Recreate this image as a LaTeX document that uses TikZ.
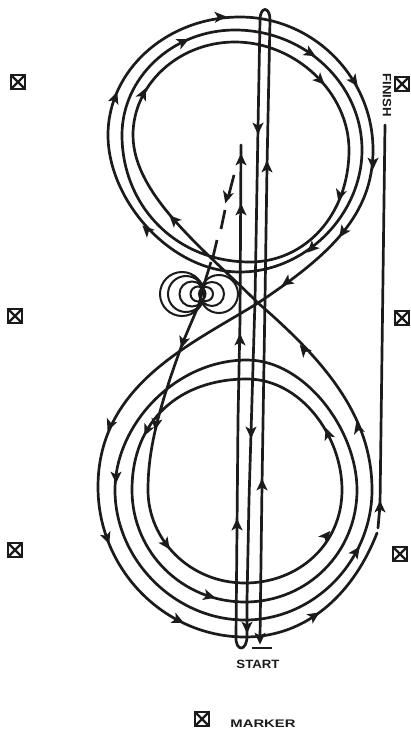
\documentclass[tikz,border=0pt]{standalone}
\usepackage{fontspec}
\setmainfont{Liberation Sans}
\definecolor{ink}{HTML}{1C1A1A}
\newcommand{\arw}[3]{\fill[ink,shift={(#1,#2)},rotate=#3] (6.5,0)--(-5.5,-5.6)--(-2.4,0)--(-5.5,5.6)--cycle;}
\newcommand{\mrk}[2]{\node[markerbox] at (#1,#2) {};\draw[ink,line width=2.4pt] (#1-6,#2-6)--(#1+6,#2+6) (#1-6,#2+6)--(#1+6,#2-6);}
\tikzset{trail/.style={ink,line width=2.7pt,line cap=round,line join=round},
 thin loop/.style={ink,line width=2pt},
 markerbox/.style={draw=ink,line width=2.8pt,minimum size=14pt,inner sep=0pt,rectangle},
 lab/.style={text=ink,font=\bfseries\fontsize{11}{12}\selectfont,inner sep=0pt}}
\begin{document}
\begin{tikzpicture}[x=1pt,y=-1pt]
\useasboundingbox (0,0) rectangle (410,730);
% the spiral through both rings
\draw[trail] (258,303) .. controls (330,255) and (373,215) .. (373,150)
 .. controls (373,77) and (313,17) .. (240,17)
 .. controls (167,17) and (108,70) .. (108,135)
 .. controls (108,200) and (170,272) .. (240,272)
 .. controls (305,272) and (362,215) .. (362,150)
 .. controls (362,84) and (305,30) .. (235,30)
 .. controls (172,30) and (122,78) .. (122,135)
 .. controls (122,205) and (175,262) .. (250,262)
 .. controls (305,262) and (349,215) .. (349,150)
 .. controls (349,92) and (295,42) .. (235,42)
 .. controls (178,42) and (133,85) .. (133,135)
 .. controls (133,195) and (205,250) .. (258,303)
 .. controls (330,365) and (372,420) .. (372,490)
 .. controls (372,560) and (315,620) .. (245,620)
 .. controls (175,620) and (115,560) .. (115,490)
 .. controls (115,425) and (175,360) .. (247,360)
 .. controls (305,360) and (357,430) .. (357,490)
 .. controls (357,552) and (308,602) .. (245,602)
 .. controls (182,602) and (132,552) .. (132,490)
 .. controls (132,420) and (180,379) .. (247,379)
 .. controls (300,379) and (342,435) .. (342,490)
 .. controls (342,545) and (298,583) .. (245,583)
 .. controls (190,583) and (148,540) .. (148,490)
 .. controls (148,450) and (158,410) .. (183,342) -- (200,302);
% outer bottom ring
\draw[trail] (258,303) .. controls (190,345) and (98,385) .. (98,487)
 .. controls (98,570) and (165,637) .. (245,637)
 .. controls (310,637) and (355,590) .. (377,533);
% vertical lines
\draw[trail] (241,145)--(240,320)--(238,420)--(236,636) .. controls (235,652) and (247,652) .. (247,636) --(247,600)--(249,500)--(252,400)--(255,300)--(258,128)--(260,20) .. controls (260,6) and (270,6) .. (270,20)--(267,167)--(265,300)--(262,485)--(260,638);
% finish line
\draw[trail] (385,125)--(380,505)--(378,528);
% start bar
\draw[ink,line width=2.4pt] (252,648)--(272,648);
% dashed approach
\draw[trail,line cap=butt] (234,175)--(228,198) (225,210)--(221,229) (217,240)--(213,257) (211,262)--(206,278)--(199,304);
% circles
\draw[thin loop] (182,294) circle[radius=22] (186,294) circle[radius=18] (192,294) circle[radius=12.5] (198,294) circle[radius=7.5];
\draw[thin loop] (219,294) circle[radius=19] (212,294) circle[radius=12] (206,294) circle[radius=7];
% arrowheads
\arw{220}{17}{3}\arw{115}{98}{70}\arw{147}{230}{135}\arw{354}{81}{-55}\arw{373}{163}{-90}\arw{343}{232}{-125}\arw{287}{282}{-145}
\arw{183}{42}{25}\arw{174}{220}{135}\arw{310}{53}{-30}\arw{312}{248}{-135}
\arw{143}{94}{65}\arw{320}{80}{-45}\arw{340}{195}{-105}
\arw{110}{425}{-112}\arw{107}{538}{-70}\arw{178}{620}{-25}\arw{314}{616}{33}\arw{380}{507}{90}
\arw{116}{477}{-90}\arw{147}{430}{-115}\arw{156}{424}{-100}\arw{166}{544}{-55}\arw{209}{596}{-15}
\arw{356}{552}{55}\arw{326}{536}{50}\arw{328}{434}{110}\arw{358}{428}{105}\arw{304}{350}{130}\arw{183}{342}{-107}
\arw{241}{160}{90}\arw{241}{210}{90}\arw{240}{340}{90}\arw{237}{525}{90}
\arw{258}{128}{-90}\arw{251}{432}{-90}\arw{247}{627}{-90}
\arw{267}{167}{90}\arw{262}{485}{90}\arw{260}{638}{-90}
\arw{227}{197}{-105}
% markers
\mrk{18}{82}\mrk{15}{316}\mrk{15}{550}\mrk{402}{84}\mrk{402}{318}\mrk{400}{554}\mrk{202}{719}
% labels
\node[lab,xscale=1.1,font=\bfseries\fontsize{12}{12}\selectfont] (startlabel) at (258,664) {START};
\node[lab,xscale=1.35] (markerlabel) at (263,724) {MARKER};
\node[lab,rotate=-90,xscale=1.1,font=\bfseries\fontsize{12}{12}\selectfont] (finishlabel) at (387,95) {FINISH};
\end{tikzpicture}
\end{document}
